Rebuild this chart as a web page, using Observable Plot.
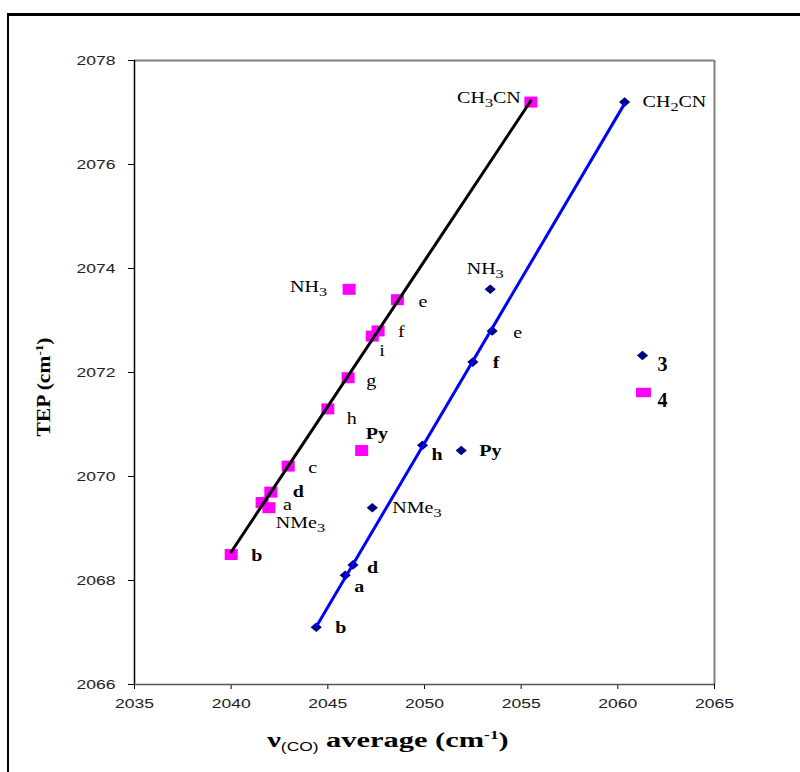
<!DOCTYPE html>
<html><head><meta charset="utf-8">
<script src="https://cdn.jsdelivr.net/npm/d3@7"></script>
<script src="https://cdn.jsdelivr.net/npm/@observablehq/plot@0.6"></script>
<style>
html,body{margin:0;padding:0;background:#fff;}
#wrap{position:relative;width:800px;height:772px;overflow:hidden;background:#fff;}
#border{position:absolute;left:7px;top:13px;width:900px;height:900px;border-left:2px solid #000;border-top:3px solid #000;}
#wrap svg{position:absolute;left:0;top:0;}
</style></head><body><div id="wrap"><div id="border"></div></div>
<script>
// ---- data ----
const xTicks = [2035, 2040, 2045, 2050, 2055, 2060, 2065];
const yTicks = [2066, 2068, 2070, 2072, 2074, 2076, 2078];

// complex 3 (navy diamonds, blue trendline)
const s3Labels = ["CH₂CN", "NH₃", "e", "f", "h", "Py", "NMe₃", "d", "a", "b"];
const s3X = [2060.35, 2053.4, 2053.5, 2052.5, 2049.9, 2051.9, 2047.3, 2046.3, 2045.9, 2044.4];
const s3Y = [2077.2, 2073.6, 2072.8, 2072.2, 2070.6, 2070.5, 2069.4, 2068.3, 2068.1, 2067.1];
const s3OnLine = [true, false, true, true, true, false, false, true, true, true];

// complex 4 (magenta squares, black trendline)
const s4Labels = ["CH₃CN", "NH₃", "e", "f", "i", "g", "h", "Py", "c", "d", "a", "NMe₃", "b"];
const s4X = [2055.5, 2046.1, 2048.6, 2047.6, 2047.3, 2046.05, 2045.0, 2046.75, 2042.95, 2042.05, 2041.6, 2041.95, 2040.0];
const s4Y = [2077.2, 2073.6, 2073.4, 2072.8, 2072.7, 2071.9, 2071.3, 2070.5, 2070.2, 2069.7, 2069.5, 2069.4, 2068.5];
const s4OnLine = [true, false, true, true, true, true, true, false, true, true, true, false, true];

const legendNames = ["3", "4"];

// ---- layout (label placement: dx, dy, anchor, bold) ----
const place3 = {
  "CH₂CN": [18, 0, "start", false], "NH₃": [-5, -20, "middle", false], "e": [21, 2, "start", false],
  "f": [20, 1, "start", true], "h": [9, 10, "start", true], "Py": [18, 0, "start", true],
  "NMe₃": [20, 0, "start", false], "d": [14, 3, "start", true], "a": [9, 12, "start", true], "b": [19, 1, "start", true]
};
const place4 = {
  "CH₃CN": [-10, -4, "end", false], "NH₃": [-22, -2, "end", false], "e": [21, 2, "start", false],
  "f": [20, 1, "start", false], "i": [7, 15, "start", false], "g": [18, 3, "start", false],
  "h": [19, 10, "start", false], "Py": [4, -17, "start", true], "c": [20, 2, "start", false],
  "d": [22, 0, "start", true], "a": [21, 2, "start", false], "NMe₃": [7, 15, "start", false], "b": [20, 1, "start", true]
};

const s3 = s3Labels.map((label, i) => ({label, x: s3X[i], y: s3Y[i], on: s3OnLine[i]}));
const s4 = s4Labels.map((label, i) => ({label, x: s4X[i], y: s4Y[i], on: s4OnLine[i]}));

const rectSym = {draw(c) { c.moveTo(-6.5, -5.5); c.lineTo(6.5, -5.5); c.lineTo(6.5, 5.5); c.lineTo(-6.5, 5.5); c.closePath(); }};
const legendRectSym = {draw(c) { c.moveTo(-7.5, -4.7); c.lineTo(7.5, -4.7); c.lineTo(7.5, 4.7); c.lineTo(-7.5, 4.7); c.closePath(); }};
const diamondSym = {draw(c) { c.moveTo(0, -4.8); c.lineTo(5.6, 0); c.lineTo(0, 4.8); c.lineTo(-5.6, 0); c.closePath(); }};

const NAVY = "#000080", MAGENTA = "#ff00ff", BLUE = "#0000ff";
const serif = "'Liberation Serif', 'Times New Roman', serif";

function labelMarks(data, place) {
  return data.map(d => {
    const [dx, dy, anchor, bold] = place[d.label];
    return Plot.text([d], {x: "x", y: "y", text: "label", dx, dy, textAnchor: anchor,
      fontFamily: serif, fontSize: 16, fontWeight: bold ? "bold" : "normal", fill: "#000",
      className: "ptlabel"});
  });
}

const chart = Plot.plot({
  width: 800, height: 772,
  marginLeft: 134, marginRight: 86, marginTop: 60, marginBottom: 88,
  style: {background: "transparent", fontFamily: "'Liberation Sans', Arial, sans-serif", fontSize: "13px", overflow: "visible"},
  x: {domain: [2035, 2065]},
  y: {domain: [2066, 2078]},
  marks: [
    Plot.ruleX([2065], {stroke: "#808080", strokeWidth: 2}),
    Plot.ruleY([2078], {stroke: "#808080", strokeWidth: 2}),
    Plot.axisX({ticks: xTicks, tickFormat: d => String(d), tickSize: 5, tickPadding: 9, label: null, stroke: "#000", fill: "#222"}),
    Plot.axisY({ticks: yTicks, tickFormat: d => String(d), tickSize: 6, tickPadding: 13, label: null, stroke: "#000", fill: "#222"}),
    Plot.ruleX([2035], {stroke: "#000", strokeWidth: 1.5}),
    Plot.ruleY([2066], {stroke: "#555", strokeWidth: 1.5}),
    Plot.dot(s4, {x: "x", y: "y", symbol: rectSym, fill: MAGENTA, stroke: "none", r: 6}),
    Plot.dot(s3, {x: "x", y: "y", symbol: diamondSym, fill: NAVY, stroke: "none", r: 6}),
    Plot.linearRegressionY(s4.filter(d => d.on), {x: "x", y: "y", stroke: "#000", strokeWidth: 3, ci: 0}),
    Plot.linearRegressionY(s3.filter(d => d.on), {x: "x", y: "y", stroke: BLUE, strokeWidth: 3, ci: 0}),
    ...labelMarks(s4, place4),
    ...labelMarks(s3, place3),
    // legend
    Plot.dot([legendNames[0]], {frameAnchor: "top-right", dx: -72, dy: 295, symbol: diamondSym, fill: NAVY, stroke: "none", r: 6}),
    Plot.dot([legendNames[1]], {frameAnchor: "top-right", dx: -71, dy: 332, symbol: legendRectSym, fill: MAGENTA, stroke: "none", r: 6}),
    Plot.text([legendNames[0]], {frameAnchor: "top-right", dx: -57, dy: 296, text: d => d, textAnchor: "start", fontFamily: serif, fontSize: 20, fontWeight: "bold", fill: "#000"}),
    Plot.text([legendNames[1]], {frameAnchor: "top-right", dx: -57, dy: 332, text: d => d, textAnchor: "start", fontFamily: serif, fontSize: 20, fontWeight: "bold", fill: "#000"})
  ]
});

const svg = d3.select(chart);

// widen tick labels like the reference rendering
svg.selectAll("g[aria-label='x-axis tick label'] text, g[aria-label='y-axis tick label'] text")
  .each(function() {
    const t = d3.select(this);
    t.attr("transform", (t.attr("transform") || "") + " scale(1.35,1)");
  });

// point labels: real subscripts via tspans, slightly widened
svg.selectAll(".ptlabel text").each(function() {
  const t = d3.select(this);
  const tr = t.attr("transform");
  if (tr) {
    t.attr("transform", tr + " scale(1.25,1)");
  } else {
    const x = +t.attr("x") || 0, y = +t.attr("y") || 0;
    t.attr("x", null).attr("y", null).attr("transform", `translate(${x},${y}) scale(1.25,1)`);
  }
  const s = this.textContent;
  const m = s.match(/^(.*?)([₀-₉])(.*)$/);
  if (m) {
    const subs = "₀₁₂₃₄₅₆₇₈₉";
    t.text(null);
    t.append("tspan").text(m[1]);
    t.append("tspan").text(String(subs.indexOf(m[2]))).attr("dy", 4).style("font-size", "13px").style("font-weight", "normal");
    if (m[3]) t.append("tspan").text(m[3]).attr("dy", -4);
  }
});

// y-axis title
const yt = svg.append("text")
  .attr("transform", "translate(50,387) rotate(-90) scale(1.2,1)")
  .attr("text-anchor", "middle")
  .style("font-family", serif).style("font-weight", "bold").style("font-size", "18px").attr("fill", "#000");
yt.append("tspan").text("TEP (cm");
yt.append("tspan").text("-1").attr("dy", -7).style("font-size", "11px");
yt.append("tspan").text(")").attr("dy", 7);

// x-axis title
const xt = svg.append("text")
  .attr("transform", "translate(388,747) scale(1.45,1)")
  .attr("text-anchor", "middle")
  .style("font-family", serif).style("font-weight", "bold").style("font-size", "21px").attr("fill", "#000");
xt.append("tspan").text("ν");
xt.append("tspan").text("(CO)").attr("dy", 4).style("font-family", "'Liberation Sans', Arial, sans-serif").style("font-weight", "normal").style("font-size", "12px");
xt.append("tspan").text(" average (cm").attr("dy", -4);
xt.append("tspan").text("-1").attr("dy", -8).style("font-size", "12px");
xt.append("tspan").text(")").attr("dy", 8);

document.getElementById("wrap").appendChild(chart);
</script>
</body></html>
